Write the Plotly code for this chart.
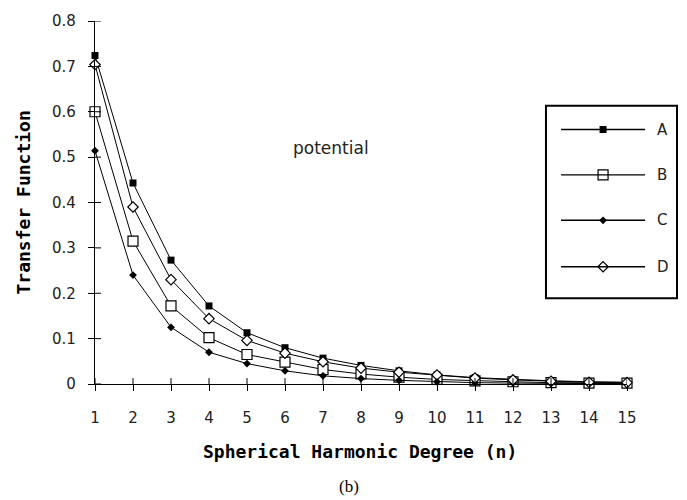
import plotly.graph_objects as go

# Spherical harmonic degree n
degree = list(range(1, 16))

# Transfer function values for each model
series_a = [0.724, 0.443, 0.273, 0.172, 0.113, 0.080, 0.057, 0.041, 0.029, 0.020, 0.014, 0.010, 0.007, 0.005, 0.004]
series_b = [0.600, 0.315, 0.172, 0.102, 0.065, 0.048, 0.032, 0.022, 0.015, 0.010, 0.007, 0.005, 0.003, 0.002, 0.002]
series_c = [0.514, 0.240, 0.125, 0.070, 0.045, 0.029, 0.018, 0.012, 0.008, 0.005, 0.003, 0.002, 0.001, 0.001, 0.001]
series_d = [0.704, 0.390, 0.230, 0.144, 0.096, 0.068, 0.049, 0.035, 0.026, 0.020, 0.013, 0.009, 0.006, 0.004, 0.003]

names = ["A", "B", "C", "D"]
values = [series_a, series_b, series_c, series_d]

x_ticks = list(range(1, 16))
y_ticks = [0, 0.1, 0.2, 0.3, 0.4, 0.5, 0.6, 0.7, 0.8]
y_tick_text = ["0", "0.1", "0.2", "0.3", "0.4", "0.5", "0.6", "0.7", "0.8"]

markers = {
    "A": dict(symbol="square", size=7, color="black", line=dict(width=0)),
    "B": dict(symbol="square", size=10, color="white", line=dict(width=1.2, color="black")),
    "C": dict(symbol="diamond", size=6, color="black", line=dict(width=0)),
    "D": dict(symbol="diamond", size=8, color="white", line=dict(width=1.2, color="black")),
}

tick_font = dict(family="DejaVu Sans", size=15, color="#222")
title_font = dict(family="DejaVu Sans Mono", size=18, color="black", weight="bold")

# Plot-area size in px, used to express the inward tick length in paper units
PLOT_W, PLOT_H, TICK_LEN = 532, 368, 6

fig = go.Figure()
for name, vals in zip(names, values):
    fig.add_trace(go.Scatter(
        x=degree, y=vals, mode="lines+markers", name=name,
        line=dict(color="black", width=1),
        marker=markers[name], showlegend=False, cliponaxis=False,
    ))

shapes = []
# Inward halves of the crossing tick marks (the outward halves come from the axes)
for xv in x_ticks:
    shapes.append(dict(type="line", xref="x", yref="paper", x0=xv, x1=xv,
                       y0=0, y1=TICK_LEN / PLOT_H, line=dict(color="black", width=1)))
for yv in y_ticks:
    shapes.append(dict(type="line", xref="paper", yref="y", x0=0, x1=TICK_LEN / PLOT_W,
                       y0=yv, y1=yv, line=dict(color="black", width=1)))

# Boxed key (paper coordinates)
legend_rows_y = [0.701, 0.576, 0.451, 0.323]
line_x0, line_x1, swatch_x, label_x = 0.876, 1.034, 0.955, 1.052

shapes.append(dict(type="rect", xref="paper", yref="paper",
                   x0=0.8477, x1=1.094, y0=0.2364, y1=0.7663,
                   line=dict(color="black", width=2), fillcolor="white", layer="below"))
for ly in legend_rows_y:
    shapes.append(dict(type="line", xref="paper", yref="paper",
                       x0=line_x0, x1=line_x1, y0=ly, y1=ly,
                       line=dict(color="black", width=1.4)))

for name, ly in zip(names, legend_rows_y):
    fig.add_trace(go.Scatter(
        x=[swatch_x], y=[ly], xaxis="x3", yaxis="y3", mode="markers",
        marker=markers[name], showlegend=False, cliponaxis=False, hoverinfo="skip",
    ))

annotations = [
    dict(text=n, x=label_x, y=ly, xref="paper", yref="paper", showarrow=False,
         xanchor="left", yanchor="middle", font=tick_font)
    for n, ly in zip(names, legend_rows_y)
]
annotations += [
    dict(text="potential", x=0.4445, y=0.6495, xref="paper", yref="paper",
         xanchor="center", yanchor="middle", showarrow=False,
         font=dict(family="DejaVu Sans", size=17, color="#222")),
    dict(text="Spherical Harmonic Degree (n)", x=0.498, y=-0.185, xref="paper", yref="paper",
         xanchor="center", yanchor="middle", showarrow=False, font=title_font),
    dict(text="Transfer Function", x=-0.1335, y=0.5, xref="paper", yref="paper",
         xanchor="center", yanchor="middle", showarrow=False, textangle=-90, font=title_font),
    dict(text="(b)", x=0.4774, y=-0.2826, xref="paper", yref="paper",
         xanchor="center", yanchor="middle", showarrow=False,
         font=dict(family="Liberation Serif", size=17, color="black")),
]

fig.update_layout(
    width=687, height=500,
    margin=dict(l=95, r=60, t=16, b=116),
    paper_bgcolor="white", plot_bgcolor="white",
    xaxis=dict(range=[1, 15], tickvals=x_ticks, ticks="outside", ticklen=TICK_LEN, tickwidth=1,
               tickcolor="black", showline=True, linecolor="black", linewidth=1.3,
               showgrid=False, zeroline=False, tickfont=tick_font, ticklabelstandoff=14),
    yaxis=dict(range=[0, 0.8], tickvals=y_ticks, ticktext=y_tick_text, ticks="outside",
               ticklen=TICK_LEN, tickwidth=1, tickcolor="black", showline=True,
               linecolor="black", linewidth=1.3, showgrid=False, zeroline=False,
               tickfont=tick_font, ticklabelstandoff=9),
    xaxis3=dict(range=[0, 1], overlaying="x", anchor="y3", visible=False),
    yaxis3=dict(range=[0, 1], overlaying="y", anchor="x3", visible=False),
    shapes=shapes,
    annotations=annotations,
)

fig.write_html("out.html")
